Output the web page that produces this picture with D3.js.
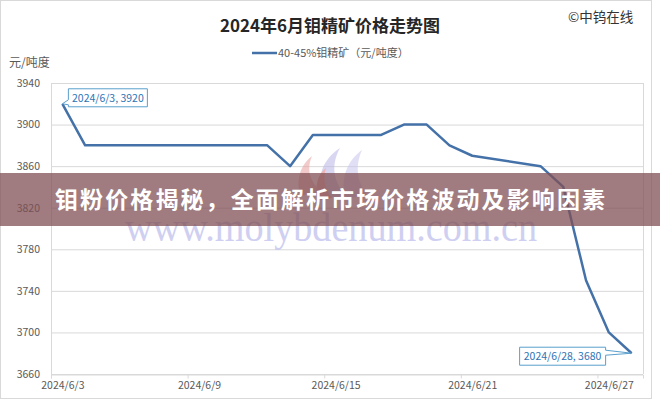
<!DOCTYPE html>
<html><head><meta charset="utf-8">
<script src="https://cdn.jsdelivr.net/npm/d3@7"></script>
<style>
html,body{margin:0;padding:0;background:#fff;}
svg{display:block;font-family:"Noto Sans CJK SC","Noto Sans",sans-serif;}
</style></head>
<body><svg id="c" width="660" height="400"></svg>
<script>
const dates = ["2024/6/3","2024/6/4","2024/6/5","2024/6/6","2024/6/7","2024/6/11","2024/6/12","2024/6/13","2024/6/14","2024/6/17","2024/6/18","2024/6/19","2024/6/20","2024/6/21","2024/6/24","2024/6/25","2024/6/26","2024/6/27","2024/6/28"];
const values = [3920,3880,3880,3880,3880,3880,3880,3860,3890,3890,3900,3900,3880,3870,3860,3840,3750,3700,3680];
const xTickLabels = ["2024/6/3","2024/6/9","2024/6/15","2024/6/21","2024/6/27"];
const yTicks = [3660,3700,3740,3780,3820,3860,3900,3940];
const title = "2024年6月钼精矿价格走势图";
const seriesName = "40-45%钼精矿（元/吨度）";
const yUnit = "元/吨度";
const brand = "©中钨在线";
const bannerText = "钼粉价格揭秘，全面解析市场价格波动及影响因素";
const watermark = "www.molybdenum.com.cn";

const parse = d3.timeParse("%Y/%m/%d");
const data = dates.map((d,i)=>({date:parse(d), value:values[i], label:d}));
const DAY = 864e5;
const svg = d3.select("#c");
const L=51, R=643, T=83, B=374;
const x = d3.scaleTime()
  .domain([new Date(parse("2024/6/3").getTime()-DAY/2), new Date(parse("2024/6/28").getTime()+DAY/2)])
  .range([L,R]);
const y = d3.scaleLinear().domain([3660,3940]).range([B,T]);

// outer border
svg.append("rect").attr("x",0.5).attr("y",0.5).attr("width",651).attr("height",398)
  .attr("fill","#fff").attr("stroke","#d9d9d9");

// title
svg.append("text").attr("x",330).attr("y",32).attr("text-anchor","middle")
  .attr("font-size",17).attr("font-weight","bold").attr("fill","#262626").text(title);
svg.append("text").attr("x",568).attr("y",22).attr("font-size",13.5).attr("fill","#333").text(brand);

// legend
svg.append("line").attr("x1",252).attr("x2",277).attr("y1",53).attr("y2",53)
  .attr("stroke","#4472a8").attr("stroke-width",2.5);
svg.append("text").attr("x",278).attr("y",57).attr("font-size",11).attr("fill","#595959").text(seriesName);

// y unit
svg.append("text").attr("x",9).attr("y",67).attr("font-size",12).attr("fill","#595959").text(yUnit);

// gridlines
svg.append("g").selectAll("line").data(yTicks).join("line")
  .attr("x1",L).attr("x2",R).attr("y1",d=>y(d)+0.5).attr("y2",d=>y(d)+0.5)
  .attr("stroke","#d9d9d9");
// plot side lines
svg.append("line").attr("x1",L+0.5).attr("x2",L+0.5).attr("y1",T).attr("y2",B).attr("stroke","#d9d9d9");
svg.append("line").attr("x1",R+0.5).attr("x2",R+0.5).attr("y1",T).attr("y2",B).attr("stroke","#d9d9d9");

// y axis labels
const yAx = svg.append("g").attr("transform",`translate(${L},0)`)
  .call(d3.axisLeft(y).tickValues(yTicks).tickSize(0).tickPadding(11).tickFormat(d3.format("d")));
yAx.select(".domain").remove();
yAx.selectAll("text").attr("font-size",10.5).attr("fill","#595959").attr("font-family","'Noto Sans CJK SC',sans-serif");

// x axis ticks (between categories) and labels
const tickDates = xTickLabels.map(parse);
const xAxT = svg.append("g").attr("transform",`translate(0,${B+0.5})`)
  .call(d3.axisBottom(x).tickValues(tickDates.map(d=>new Date(d.getTime()-DAY/2))).tickSize(4).tickFormat(""));
xAxT.select(".domain").attr("stroke","#d9d9d9");
xAxT.selectAll(".tick line").attr("stroke","#d9d9d9");
const xAxL = svg.append("g").attr("transform",`translate(0,${B})`)
  .call(d3.axisBottom(x).tickValues(tickDates).tickSize(0).tickPadding(8).tickFormat((d,i)=>xTickLabels[i]));
xAxL.select(".domain").remove();
xAxL.selectAll("text").attr("font-size",10.5).attr("fill","#595959").attr("font-family","'Noto Sans CJK SC',sans-serif");

// watermark logo (flame-like W)
const lg = svg.append("g").attr("opacity",0.55);
lg.append("path").attr("d","M300,196 C296,180 300,165 312,156 C306,170 310,182 322,192 Z").attr("fill","#e8a0a0");
lg.append("path").attr("d","M322,198 C316,178 322,160 340,148 C330,166 334,182 346,196 Z").attr("fill","#b9b6e6");
lg.append("path").attr("d","M346,198 C340,180 346,162 362,150 C354,168 358,184 368,196 Z").attr("fill","#c9c6ee");
lg.append("path").attr("d","M318,200 C314,186 318,174 326,168 C322,180 326,190 332,198 Z").attr("fill","#e07a7a");

// watermark url
svg.append("text").attr("x",331).attr("y",241).attr("text-anchor","middle")
  .attr("font-family","'Liberation Serif','DejaVu Serif',serif").attr("font-size",39)
  .attr("textLength",412).attr("lengthAdjust","spacingAndGlyphs")
  .attr("fill","#c7c7ef").attr("opacity",0.85).text(watermark);

// line
svg.append("path").datum(data)
  .attr("d",d3.line().x(d=>x(d.date)).y(d=>y(d.value)))
  .attr("fill","none").attr("stroke","#4472a8").attr("stroke-width",2.5)
  .attr("stroke-linejoin","round");

// callouts
function callout(d, side){
  const px=x(d.date), py=y(d.value);
  const txt = `${d.label}, ${d.value}`;
  const g = svg.append("g");
  let pathD, tx, ty;
  if(side==="right"){
    const bx=px+6, by=py-15, w=79, h=18;
    pathD=`M${bx},${by} H${bx+w} V${by+h} H${bx} V${by+h-2} L${px},${py} L${bx},${by+h-7} Z`;
    tx=bx+w/2; ty=by+h/2+4;
  } else {
    const w=86, h=18, bx=px-26-w, by=py-6;
    pathD=`M${bx},${by} H${bx+w} V${by+3} L${px},${py} L${bx+w},${by+8} V${by+h} H${bx} Z`;
    tx=bx+w/2; ty=by+h/2+4;
  }
  g.append("path").attr("d",pathD).attr("fill","#fff").attr("stroke","#5a9fcc").attr("stroke-width",1);
  g.append("text").attr("x",tx).attr("y",ty).attr("text-anchor","middle")
    .attr("font-size",10.5).attr("fill","#2e74b5").text(txt);
}
callout(data[0],"right");
callout(data[data.length-1],"left");

// banner overlay
svg.append("rect").attr("x",0).attr("y",173).attr("width",660).attr("height",53)
  .attr("fill","#805056").attr("opacity",0.75);
svg.append("text").attr("x",330).attr("y",208).attr("text-anchor","middle")
  .attr("font-size",23).attr("font-weight","bold").attr("fill","#fff")
  .attr("textLength",550).attr("lengthAdjust","spacing").text(bannerText);
</script></body></html>
